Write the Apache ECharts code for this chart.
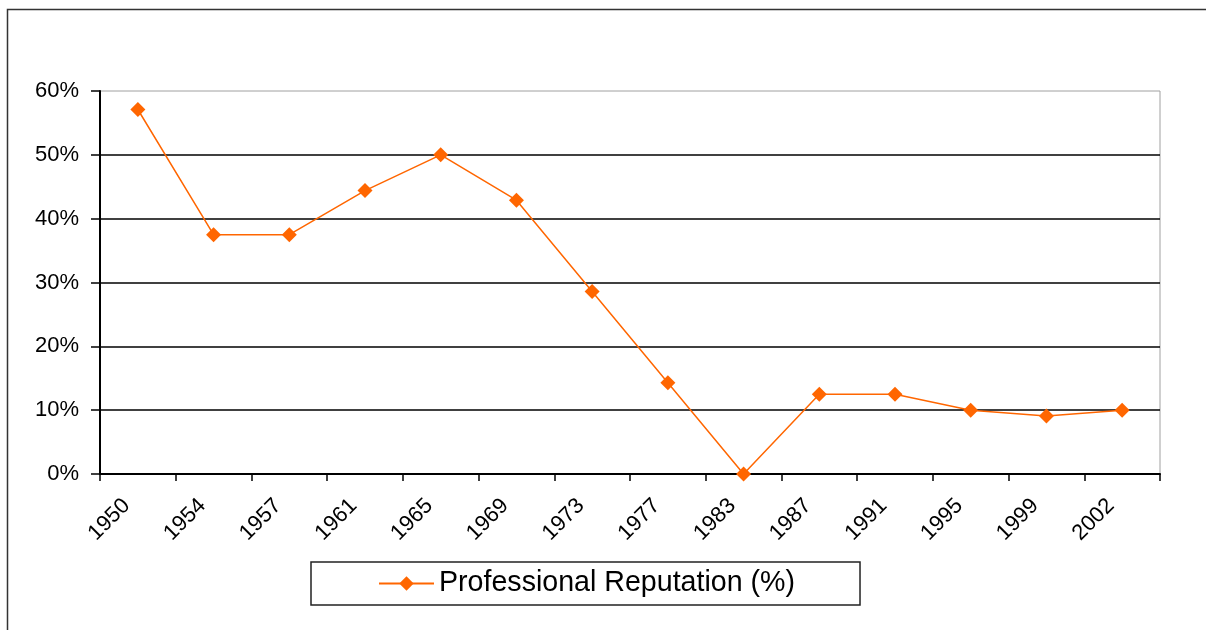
<!DOCTYPE html>
<html>
<head>
<meta charset="utf-8">
<script src="https://cdn.jsdelivr.net/npm/echarts@6/dist/echarts.min.js"></script>
<style>
  html, body { margin: 0; padding: 0; background: #fff; }
  #chart { width: 1206px; height: 630px; }
</style>
</head>
<body>
<div id="chart"></div>
<script>
// years on the category axis
const years = ['1950', '1954', '1957', '1961', '1965', '1969', '1973',
  '1977', '1983', '1987', '1991', '1995', '1999', '2002'];

// professional reputation, percent
const reputation = [57.1, 37.5, 37.5, 44.4, 50.0, 42.9, 28.6,
  14.3, 0.0, 12.5, 12.5, 10.0, 9.1, 10.0];

const seriesName = 'Professional Reputation (%)';

const FONT = '"Liberation Sans", Arial, sans-serif';
const ORANGE = '#ff6600';

const myChart = echarts.init(document.getElementById('chart'));

const option = {
  backgroundColor: '#ffffff',
  animation: false,
  textStyle: { fontFamily: FONT },
  // outer chart frame
  graphic: [{
    type: 'rect',
    shape: { x: 7.5, y: 9.5, width: 1260, height: 700 },
    style: { fill: 'none', stroke: '#333333', lineWidth: 1.5 },
    silent: true
  }],
  grid: {
    left: 100, right: 46, top: 91, bottom: 156,
    show: true,
    borderColor: '#a0a0a0',
    borderWidth: 1,
    backgroundColor: '#ffffff'
  },
  legend: {
    left: 311,
    top: 562,
    itemWidth: 55,
    itemHeight: 18,
    padding: [7, 65, 7, 67],
    borderColor: '#222222',
    borderWidth: 1.5,
    textStyle: { fontSize: 28.6, color: '#000000', fontFamily: FONT },
    data: [seriesName]
  },
  xAxis: {
    type: 'category',
    data: years,
    boundaryGap: true,
    axisLine: { lineStyle: { color: '#000000', width: 2 } },
    axisTick: { show: true, length: 7, lineStyle: { color: '#000000', width: 1.5 } },
    axisLabel: {
      rotate: 45, fontSize: 22, color: '#000000',
      margin: 17, interval: 0, padding: [0, 16, 0, 0]
    },
    splitLine: { show: false }
  },
  yAxis: {
    type: 'value',
    min: 0,
    max: 60,
    interval: 10,
    axisLine: { show: true, lineStyle: { color: '#000000', width: 2 } },
    axisTick: { show: true, length: 9, lineStyle: { color: '#000000', width: 1.5 } },
    axisLabel: { formatter: '{value}%', fontSize: 22, color: '#000000', margin: 21 },
    splitLine: {
      show: true,
      showMaxLine: false,
      lineStyle: { color: '#000000', width: 1.5 }
    }
  },
  series: [{
    name: seriesName,
    type: 'line',
    data: reputation,
    symbol: 'diamond',
    symbolSize: 15,
    lineStyle: { color: ORANGE, width: 1.5 },
    itemStyle: { color: ORANGE },
    z: 5
  }]
};

myChart.setOption(option);
</script>
</body>
</html>
